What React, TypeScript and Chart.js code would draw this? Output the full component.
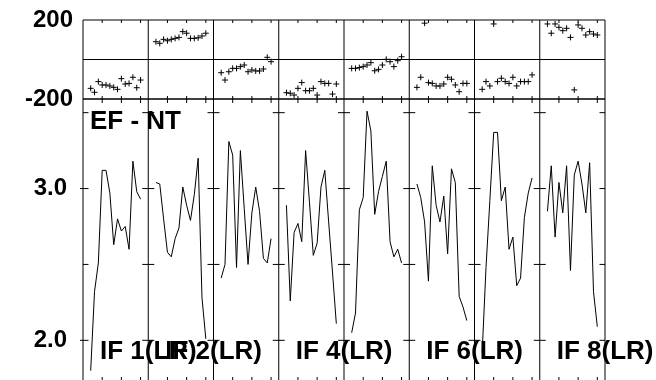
import React, { useEffect, useRef } from 'react';
import { Chart, registerables } from 'chart.js';

Chart.register(...registerables);

// ---------- data ----------
const TITLE = 'EF - NT';
const PANEL_LABELS = ['IF 1(LR)', 'IF 2(LR)', '', 'IF 4(LR)', '', 'IF 6(LR)', '', 'IF 8(LR)'];
const PANEL_SPAN = 17;
const SAMPLE_X = [2, 3, 4, 5, 6, 7, 8, 9, 10, 11, 12, 13, 14, 15];
const X_TICKS = [5, 10, 15];

const TOP_TICKS = [-200, 200];
const TOP_ZERO = 0;
const BOTTOM_MAJOR = [2.0, 3.0];
const BOTTOM_MINOR = [2.5, 3.5];

const LINE_1 = [1.80, 2.32, 2.51, 3.12, 3.12, 2.97, 2.63, 2.80, 2.72, 2.75, 2.60, 3.18, 2.98, 2.93];
const LINE_2 = [3.04, 3.03, 2.80, 2.58, 2.55, 2.67, 2.74, 3.01, 2.89, 2.79, 2.96, 3.20, 2.28, 2.01];
const LINE_3 = [2.41, 2.50, 3.31, 3.22, 2.48, 3.25, 2.87, 2.50, 2.84, 3.01, 2.85, 2.54, 2.51, 2.67];
const LINE_4 = [2.89, 2.26, 2.71, 2.77, 2.65, 3.25, 2.91, 2.56, 2.64, 3.01, 3.12, 2.78, 2.45, 2.11];
const LINE_5 = [2.05, 2.18, 2.86, 2.94, 3.51, 3.38, 2.83, 2.98, 3.08, 3.18, 2.65, 2.55, 2.60, 2.51];
const LINE_6 = [3.03, 2.94, 2.78, 2.39, 3.15, 2.89, 2.78, 2.95, 2.57, 3.13, 3.04, 2.29, 2.22, 2.13];
const LINE_7 = [1.92, 2.48, 2.92, 3.37, 3.37, 2.92, 3.01, 2.60, 2.68, 2.36, 2.41, 2.81, 2.97, 3.07];
const LINE_8 = [2.85, 3.15, 2.68, 3.04, 2.84, 3.15, 2.46, 3.09, 3.18, 3.03, 2.84, 3.17, 2.32, 2.09];

const SCATTER_1 = [-146, -166, -112, -129, -129, -134, -141, -151, -97, -124, -121, -90, -143, -104];
const SCATTER_2 = [90, 82, 102, 95, 102, 107, 112, 141, 133, 107, 107, 110, 119, 133];
const SCATTER_3 = [-67, -104, -62, -45, -45, -36, -28, -62, -53, -58, -58, -48, 11, -11];
const SCATTER_4 = [-168, -171, -180, -146, -117, -158, -158, -146, -180, -112, -121, -121, -175, -124];
const SCATTER_5 = [-45, -45, -41, -36, -28, -16, -57, -50, -28, 1, -11, -36, -6, 14];
const SCATTER_6 = [-141, -90, 184, -117, -121, -134, -134, -124, -90, -100, -129, -163, -121, -121];
const SCATTER_7 = [-151, -112, -134, 180, -112, -95, -112, -121, -90, -134, -112, -112, -112, -78];
const SCATTER_8 = [180, 133, 180, 163, 146, 158, 112, -154, 175, 158, 124, 141, 129, 124];

const LINES = [LINE_1, LINE_2, LINE_3, LINE_4, LINE_5, LINE_6, LINE_7, LINE_8];
const SCATTERS = [SCATTER_1, SCATTER_2, SCATTER_3, SCATTER_4, SCATTER_5, SCATTER_6, SCATTER_7, SCATTER_8];

// ---------- layout ----------
const W = 656;
const H = 384;
const LEFT = 83;
const RIGHT_PAD = 51;
const TOP_Y = 20;
const MID_Y = 99;
const BOTTOM_Y = 381;
const FONT = '"Liberation Sans", Arial, Helvetica, sans-serif';

const NP = LINES.length;
const X_MAX = NP * PANEL_SPAN;

function seg(ctx: CanvasRenderingContext2D, x1: number, y1: number, x2: number, y2: number) {
  ctx.beginPath();
  ctx.moveTo(x1, y1);
  ctx.lineTo(x2, y2);
  ctx.stroke();
}

const topFrame = {
  id: 'topFrame',
  afterDatasetsDraw(chart: any) {
    const { ctx, chartArea: a, scales } = chart;
    const xs = scales.x;
    const ys = scales.y;
    ctx.save();
    ctx.strokeStyle = '#000';
    ctx.lineWidth = 1;
    [TOP_TICKS[1], TOP_ZERO, TOP_TICKS[0]].forEach((v) => {
      const y = ys.getPixelForValue(v);
      seg(ctx, a.left, y, a.right, y);
    });
    for (let p = 0; p <= NP; p++) {
      const x = xs.getPixelForValue(p * PANEL_SPAN);
      seg(ctx, x, a.top, x, a.bottom);
    }
    for (let p = 0; p < NP; p++) {
      X_TICKS.forEach((t) => {
        const x = xs.getPixelForValue(p * PANEL_SPAN + t);
        seg(ctx, x, a.top, x, a.top + 3);
        seg(ctx, x, a.bottom, x, a.bottom - 3);
      });
    }
    ctx.restore();
  },
};

const bottomFrame = {
  id: 'bottomFrame',
  afterDatasetsDraw(chart: any) {
    const { ctx, chartArea: a, scales } = chart;
    const xs = scales.x;
    const ys = scales.y;
    ctx.save();
    ctx.strokeStyle = '#000';
    ctx.lineWidth = 1;
    seg(ctx, a.left, a.top, a.right, a.top);
    seg(ctx, a.left, a.bottom, a.right, a.bottom);
    for (let p = 0; p <= NP; p++) {
      const x = xs.getPixelForValue(p * PANEL_SPAN);
      seg(ctx, x, a.top, x, a.bottom);
    }
    const yt = [...BOTTOM_MAJOR.map((v) => [v, 1]), ...BOTTOM_MINOR.map((v) => [v, 0])];
    yt.forEach(([v, major]) => {
      const y = ys.getPixelForValue(v);
      for (let p = 0; p <= NP; p++) {
        const x = xs.getPixelForValue(p * PANEL_SPAN);
        if (p === 0) seg(ctx, x - (major ? 3 : 0), y, x + 5.5, y);
        else if (p === NP) seg(ctx, x - 5.5, y, x, y);
        else seg(ctx, x - 6, y, x + 6, y);
      }
    });
    for (let p = 0; p < NP; p++) {
      X_TICKS.forEach((t) => {
        const x = xs.getPixelForValue(p * PANEL_SPAN + t);
        seg(ctx, x, a.top, x, a.top + 4);
        seg(ctx, x, a.bottom, x, a.bottom - 4);
      });
    }
    ctx.fillStyle = '#000';
    ctx.font = `bold 26px ${FONT}`;
    ctx.textAlign = 'left';
    ctx.textBaseline = 'alphabetic';
    ctx.fillText(TITLE, a.left + 7, a.top + 29.5);
    const yLab = ys.getPixelForValue(BOTTOM_MAJOR[0]) + 18.2;
    PANEL_LABELS.forEach((lab, p) => {
      if (!lab) return;
      const x = xs.getPixelForValue(p * PANEL_SPAN) + 17;
      ctx.fillText(lab, x, yLab);
    });
    ctx.restore();
  },
};

function xScale() {
  return { type: 'linear' as const, min: 0, max: X_MAX, display: false };
}

function yScale(min: number, max: number, ticks: number[], pad: number, fmt: (v: number) => string) {
  return {
    type: 'linear' as const,
    position: 'left' as const,
    min,
    max,
    afterBuildTicks: (s: any) => {
      s.ticks = ticks.map((v) => ({ value: v }));
    },
    afterFit: (s: any) => {
      s.width = LEFT;
      s.paddingTop = 0;
      s.paddingBottom = 0;
    },
    grid: { display: false, drawTicks: false },
    border: { display: false },
    ticks: {
      autoSkip: false,
      padding: pad,
      color: '#000',
      font: { family: FONT, size: 24, weight: 'bold' as const },
      callback: (v: any) => fmt(Number(v)),
    },
  };
}

export default function App() {
  const topRef = useRef<HTMLCanvasElement>(null);
  const botRef = useRef<HTMLCanvasElement>(null);

  useEffect(() => {
    const common = {
      responsive: false,
      animation: false as const,
      events: [] as any[],
      plugins: { legend: { display: false }, tooltip: { enabled: false } },
    };

    const bottom = new Chart(botRef.current!, {
      type: 'line',
      data: {
        datasets: LINES.map((vals, p) => ({
          data: SAMPLE_X.map((u, j) => ({ x: p * PANEL_SPAN + u, y: vals[j] })),
          borderColor: '#000',
          borderWidth: 1,
          pointRadius: 0,
          tension: 0,
          fill: false,
        })),
      },
      options: {
        ...common,
        layout: { padding: { left: 0, right: RIGHT_PAD, top: MID_Y, bottom: H - BOTTOM_Y } },
        scales: {
          x: xScale(),
          y: yScale(1.732, 3.59, BOTTOM_MAJOR, 16, (v) => v.toFixed(1)),
        },
      },
      plugins: [bottomFrame],
    } as any);

    const top = new Chart(topRef.current!, {
      type: 'scatter',
      data: {
        datasets: SCATTERS.map((vals, p) => ({
          data: SAMPLE_X.map((u, j) => ({ x: p * PANEL_SPAN + u, y: vals[j] })),
          borderColor: '#000',
          backgroundColor: '#000',
          borderWidth: 1,
          pointStyle: 'cross',
          pointRadius: 3,
          showLine: false,
        })),
      },
      options: {
        ...common,
        layout: { padding: { left: 0, right: RIGHT_PAD, top: TOP_Y, bottom: H - MID_Y } },
        scales: {
          x: xScale(),
          y: yScale(TOP_TICKS[0], TOP_TICKS[1], TOP_TICKS, 10, (v) => String(Math.round(v))),
        },
      },
      plugins: [topFrame],
    } as any);

    return () => {
      top.destroy();
      bottom.destroy();
    };
  }, []);

  const cv: React.CSSProperties = { position: 'absolute', left: 0, top: 0, width: W, height: H };
  return (
    <div style={{ position: 'fixed', left: 0, top: 0, width: W, height: 380, overflow: 'hidden', background: '#fff' }}>
      <canvas ref={botRef} width={W} height={H} style={cv} />
      <canvas ref={topRef} width={W} height={H} style={cv} />
    </div>
  );
}
